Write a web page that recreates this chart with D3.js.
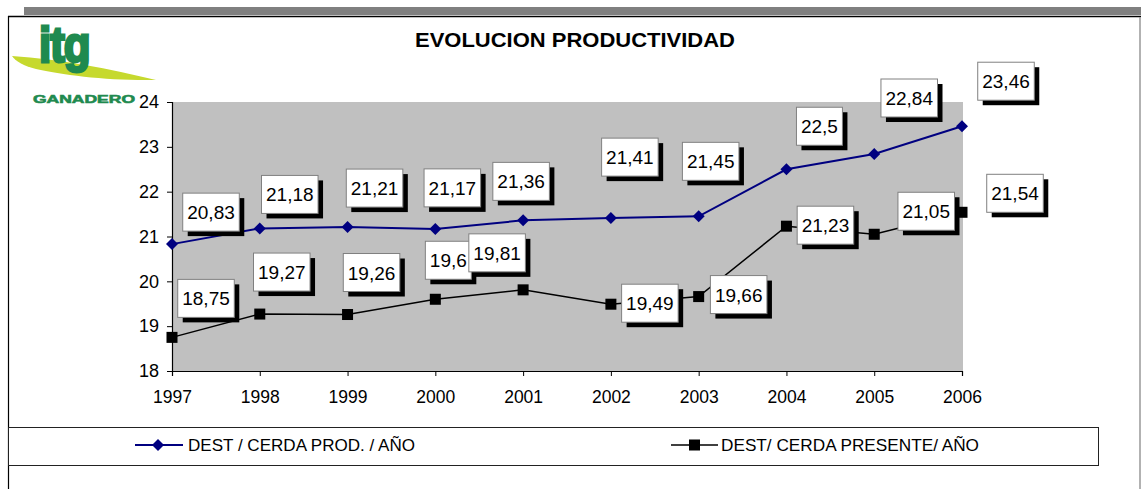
<!DOCTYPE html>
<html>
<head>
<meta charset="utf-8">
<script src="https://cdn.jsdelivr.net/npm/d3@7/dist/d3.min.js"></script>
<style>
  html, body { margin: 0; padding: 0; background: #fff; }
  svg { display: block; font-family: Arial, 'Liberation Sans', sans-serif; }
</style>
</head>
<body>
<svg id="chart" width="1141" height="489"></svg>
<script>
const years = ['1997', '1998', '1999', '2000', '2001', '2002', '2003', '2004', '2005', '2006'];
const prodValues = [20.83, 21.18, 21.21, 21.17, 21.36, 21.41, 21.45, 22.5, 22.84, 23.46];
const presentValues = [18.75, 19.27, 19.26, 19.6, 19.81, 19.49, 19.66, 21.23, 21.05, 21.54];
const yTicks = [18, 19, 20, 21, 22, 23, 24];
const seriesNames = ['DEST / CERDA PROD. / AÑO', 'DEST/ CERDA PRESENTE/ AÑO'];
const title = 'EVOLUCION PRODUCTIVIDAD';

// where each data label sits, relative to its point (px)
const prodLabelOffsets = [[39, -32], [30, -34], [27, -39], [17, -41], [-2, -39],
  [19, -61], [12, -55], [33, -43], [35, -56], [44, -45]];
const presentLabelOffsets = [[34, -39], [22, -42], [24, -42], [13, -39], [-26, -37],
  [39, -1], [40, -2], [39, -1], [52, -23], [53, -19]];

const navy = '#000080';
const green = '#1f8a4f';
const lime = '#c6d92e';

const svg = d3.select('#chart');
const plot = { left: 172, right: 962, top: 102, bottom: 371 };

const x = d3.scalePoint().domain(years).range([plot.left, plot.right]);
const y = d3.scaleLinear().domain([18, 24]).range([plot.bottom, plot.top]);

function fmt(v) {
  return String(v).replace('.', ',');
}

// outer frame
svg.append('rect')
  .attr('x', 24).attr('y', 7)
  .attr('width', 1141 - 24).attr('height', 8)
  .attr('fill', '#808080');
svg.append('line')
  .attr('x1', 8).attr('x2', 1141).attr('y1', 16.5).attr('y2', 16.5)
  .attr('stroke', '#000').attr('stroke-width', 1.5);
svg.append('line')
  .attr('x1', 8.5).attr('x2', 8.5).attr('y1', 16).attr('y2', 489)
  .attr('stroke', '#000').attr('stroke-width', 1.2);
svg.append('line')
  .attr('x1', 1140).attr('x2', 1140).attr('y1', 17).attr('y2', 489)
  .attr('stroke', '#999').attr('stroke-width', 1.5);

// logo
const logo = svg.append('g').attr('class', 'logo');
logo.append('path')
  .attr('d', 'M12,56 C60,59 110,69 156,80 C110,81 62,75 36,69 C24,66 15,61 12,56 Z')
  .attr('fill', lime);
logo.append('text')
  .text('itg')
  .attr('transform', 'translate(39,62) scale(1,1.15)')
  .attr('fill', green)
  .attr('stroke', green)
  .attr('stroke-width', 2.5)
  .attr('font-size', 44)
  .attr('font-weight', 900)
  .attr('letter-spacing', -1);
logo.append('text')
  .text('GANADERO')
  .attr('x', 33).attr('y', 103)
  .attr('fill', green)
  .attr('stroke', green)
  .attr('stroke-width', 0.6)
  .attr('font-size', 11.5)
  .attr('font-weight', 900)
  .attr('textLength', 102)
  .attr('lengthAdjust', 'spacingAndGlyphs');

// title
svg.append('text')
  .text(title)
  .attr('x', 575).attr('y', 47)
  .attr('text-anchor', 'middle')
  .attr('font-size', 19.5)
  .attr('font-weight', 'bold')
  .attr('textLength', 320)
  .attr('lengthAdjust', 'spacingAndGlyphs');

// plot area
svg.append('rect')
  .attr('x', plot.left).attr('y', plot.top)
  .attr('width', plot.right - plot.left + 1)
  .attr('height', plot.bottom - plot.top)
  .attr('fill', '#c0c0c0');

const yAxis = svg.append('g')
  .attr('transform', `translate(${plot.left},0)`)
  .call(d3.axisLeft(y).tickValues(yTicks).tickSize(5).tickPadding(8).tickFormat(d3.format('d')));
const xAxis = svg.append('g')
  .attr('transform', `translate(0,${plot.bottom})`)
  .call(d3.axisBottom(x).tickSize(5).tickPadding(15));

[yAxis, xAxis].forEach((g) => {
  g.select('.domain').attr('stroke', '#000').attr('stroke-width', 1.2);
  g.selectAll('.tick line').attr('stroke', '#000');
  g.selectAll('text')
    .attr('fill', '#000')
    .attr('font-family', 'Arial, "Liberation Sans", sans-serif');
});
yAxis.selectAll('text').attr('font-size', 18);
xAxis.selectAll('text').attr('font-size', 17.5);

// lines
const line = d3.line()
  .x((d, i) => x(years[i]))
  .y((d) => y(d));

svg.append('path')
  .datum(prodValues)
  .attr('d', line)
  .attr('fill', 'none')
  .attr('stroke', navy)
  .attr('stroke-width', 2);

svg.append('path')
  .datum(presentValues)
  .attr('d', line)
  .attr('fill', 'none')
  .attr('stroke', '#000')
  .attr('stroke-width', 1.5);

const diamond = 'M0,-6L6,0L0,6L-6,0Z';

svg.append('g').selectAll('path')
  .data(prodValues)
  .join('path')
  .attr('d', diamond)
  .attr('transform', (d, i) => `translate(${x(years[i])},${y(d)})`)
  .attr('fill', navy);

svg.append('g').selectAll('rect')
  .data(presentValues)
  .join('rect')
  .attr('x', (d, i) => x(years[i]) - 5.5)
  .attr('y', (d) => y(d) - 5.5)
  .attr('width', 11)
  .attr('height', 11)
  .attr('fill', '#000');

// data labels
function addLabels(values, offsets) {
  values.forEach((v, i) => {
    const cx = x(years[i]) + offsets[i][0];
    const cy = y(v) + offsets[i][1];
    const g = svg.append('g').attr('transform', `translate(${cx},${cy})`);
    const shadow = g.append('rect').attr('fill', '#000');
    const box = g.append('rect').attr('fill', '#fff').attr('stroke', '#808080').attr('stroke-width', 1);
    const t = g.append('text')
      .text(fmt(v))
      .attr('text-anchor', 'middle')
      .attr('y', 7)
      .attr('font-size', 19);
    const w = t.node().getComputedTextLength() + 9;
    const h = 38;
    box.attr('x', -w / 2).attr('y', -h / 2).attr('width', w).attr('height', h);
    shadow.attr('x', -w / 2 + 5).attr('y', -h / 2 + 5).attr('width', w).attr('height', h);
  });
}

addLabels(prodValues, prodLabelOffsets);
addLabels(presentValues, presentLabelOffsets);

// legend
svg.append('rect')
  .attr('x', 8.5).attr('y', 427.5)
  .attr('width', 1090).attr('height', 38)
  .attr('fill', '#fff')
  .attr('stroke', '#222');

const legend = svg.append('g');
const leg1 = legend.append('g').attr('transform', 'translate(135,445)');
leg1.append('line').attr('x1', 0).attr('x2', 48).attr('stroke', navy).attr('stroke-width', 2);
leg1.append('path').attr('d', diamond).attr('transform', 'translate(23,0)').attr('fill', navy);
leg1.append('text')
  .text(seriesNames[0])
  .attr('x', 53).attr('y', 6)
  .attr('font-size', 17)
  .attr('textLength', 227)
  .attr('lengthAdjust', 'spacingAndGlyphs');

const leg2 = legend.append('g').attr('transform', 'translate(671,445)');
leg2.append('line').attr('x1', 0).attr('x2', 47).attr('stroke', '#000').attr('stroke-width', 1.5);
leg2.append('rect').attr('x', 18).attr('y', -5.5).attr('width', 11).attr('height', 11).attr('fill', '#000');
leg2.append('text')
  .text(seriesNames[1])
  .attr('x', 50).attr('y', 6)
  .attr('font-size', 17)
  .attr('textLength', 258)
  .attr('lengthAdjust', 'spacingAndGlyphs');
</script>
</body>
</html>
